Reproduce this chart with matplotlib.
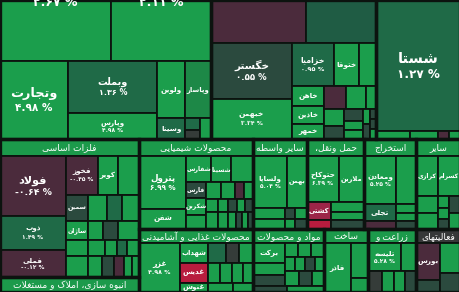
import matplotlib
matplotlib.use("Agg")
import matplotlib.pyplot as plt
from matplotlib.patches import Rectangle

# ---------------- data: tree of tiles (name, size, change-class, change %) ----------------
def L(name, v, c, pct=None):
    return {'t': 'leaf', 'name': name, 'v': v, 'c': c, 'pct': pct, 'hdr': False}

def Hd(name, v, c='hdr'):
    return {'t': 'leaf', 'name': name, 'v': v, 'c': c, 'pct': None, 'hdr': True}

def H(*ch, sector=False):
    return {'t': 'h', 'ch': ch, 'sector': sector}

def V(*ch, sector=False):
    return {'t': 'v', 'ch': ch, 'sector': sector}

banks = V(
    H(L(None, 6771, 'g', '۲.۶۷ %'), L(None, 6100, 'g', '۲.۱۱ %')),
    H(L('وتجارت', 5343, 'g', '۴.۹۸ %'),
      V(L('وبملت', 4628, 'dg', '۱.۳۶ %'), L('وپارس', 2314, 'g', '۴.۹۸ %')),
      V(L('ولوین', 1568, 'g'), L('وسینا', 578, 'dg')),
      V(L('وپاسار', 1482, 'mg'),
        H(V(L('', 180, 'dg'), L('', 135, 'gy')), L('', 231, 'g')))),
    sector=True)

auto = V(
    H(L('', 4085, 'm'), L('', 3010, 'dg2')),
    H(V(L('خگستر', 4536, 'dk', '۰.۵۵ %'), L('خبهمن', 3240, 'g', '۳.۳۴ %')),
      V(H(L('خزامیا', 1806, 'dg', '۰.۹۵ %'), L('ختوقا', 1075, 'g'), L('', 731, 'g')),
        H(V(L('خاهن', 640, 'g'), L('خاذین', 576, 'g'), L('خمهر', 480, 'g')),
          V(H(L('', 506, 'm'), L('', 460, 'g'), L('', 230, 'g')),
            H(V(L('', 340, 'g'), L('', 260, 'dk')),
              V(L('', 228, 'dk'), L('', 171, 'g'), L('', 171, 'g')),
              V(L('', 105, 'g'), L('', 105, 'dk')),
              V(L('', 60, 'dk'), L('', 60, 'dk'), L('', 60, 'g'))))))),
    sector=True)

shasta = V(L('شستا', 11004, 'dg', '۱.۲۷ %'),
           H(L('', 272, 'g'), L('', 224, 'g'), L('', 88, 'm'), L('', 88, 'g')),
           sector=True)

felezat = V(
    Hd('فلزات اساسی', 2363),
    H(V(L('فولاد', 3960, 'm', '-۰.۶۴ %'), L('ذوب', 2244, 'dg', '۱.۴۹ %'),
        L('فملی', 1782, 'm', '-۰.۱۲ %')),
      V(H(L('فخوز', 1229, 'm', '-۰.۴۵ %'), L('کویر', 800, 'g'), L('', 819, 'g')),
        V(H(L('سمین', 572, 'dk'), L('', 494, 'g'), L('', 390, 'dg'), L('', 442, 'g')),
          H(L('ساژان', 418, 'g'), L('', 285, 'g'), L('', 285, 'dk'), L('', 399, 'g')),
          H(L('', 352, 'g'), L('', 272, 'g'), L('', 192, 'g'), L('', 160, 'dg'), L('', 192, 'g')),
          H(L('', 462, 'g'), L('', 294, 'g'), L('', 252, 'dk'), L('', 210, 'm'),
            L('', 168, 'g'), L('', 147, 'g'))))),
    sector=True)

anbooh = V(Hd('انبوه سازی، املاک و مستغلات', 2085), sector=True)

shimi = V(
    Hd('محصولات شیمیایی', 1938),
    H(V(L('پترول', 2491, 'g', '۶.۹۹ %'), L('شفن', 940, 'g')),
      V(H(L('شفارس', 650, 'g'), L('شسینا', 520, 'g'), L('', 572, 'g')),
        H(V(L('فارس', 320, 'dk'), L('شکربن', 340, 'g'), L('', 280, 'g')),
          V(H(L('', 255, 'g'), L('', 238, 'g'), L('', 153, 'm'), L('', 153, 'g')),
            H(L('', 156, 'g'), L('', 130, 'g'), L('', 117, 'dk'), L('', 104, 'g'), L('', 104, 'dk')),
            H(L('', 204, 'g'), L('', 170, 'g'), L('', 136, 'g'), L('', 102, 'dk'),
              L('', 102, 'g'), L('', 85, 'dk')))))),
    sector=True)

vaseteh = V(
    Hd('سایر واسطه', 918),
    V(H(L('ولساپا', 1768, 'g', '۵.۰۴ %'), L('بهمن', 1040, 'g')),
      H(V(L('', 352, 'g'), L('', 320, 'g')), V(L('', 110, 'dk'), L('', 100, 'g')),
        V(L('', 132, 'g'), L('', 120, 'dk')))),
    sector=True)

haml = V(
    Hd('حمل ونقل،', 969),
    V(H(L('حتوکاح', 1472, 'g', '۶.۳۹ %'), L('ملارین', 1150, 'g')),
      H(V(L('کشتی', 432, 'pk'), L('', 216, 'r')),
        V(L('', 330, 'g'), L('', 264, 'g'), L('', 297, 'dk')))),
    sector=True)

estekhraj = V(
    Hd('استخراج', 884),
    V(H(L('ومعادن', 1536, 'g', '۵.۲۵ %'), L('', 960, 'g')),
      H(V(L('تجلی', 544, 'dg'), L('', 256, 'm')),
        V(L('', 180, 'g'), L('', 160, 'g'), L('', 160, 'dk')))),
    sector=True)

sayer = V(
    Hd('سایر', 748),
    V(H(L('کرازی', 880, 'g'), L('کسرام', 880, 'g')),
      H(V(L('', 374, 'g'), L('', 352, 'g')),
        V(L('', 132, 'g'), L('', 121, 'g'), L('', 110, 'dk')),
        V(L('', 187, 'dk'), L('', 176, 'g')))),
    sector=True)

ghaza = V(
    Hd('محصولات غذایی و آشامیدنی', 1596),
    H(L('غزر', 2009, 'g', '۴.۹۸ %'),
      V(H(L('شهداب', 560, 'g'), L('', 360, 'dg'), L('', 260, 'gy'), L('', 280, 'g')),
        H(L('غدیس', 560, 'r'), L('', 240, 'g'), L('', 240, 'g'), L('', 220, 'g'), L('', 200, 'g')),
        H(L('غنوش', 252, 'g'), L('', 225, 'g'), L('', 180, 'g')))),
    sector=True)

mavad = V(
    Hd('مواد و محصولات', 994),
    H(V(L('برکت', 640, 'g'), L('', 384, 'g'), L('', 352, 'dk')),
      V(H(L('', 182, 'g'), L('', 182, 'g'), L('', 182, 'g')),
        H(L('', 140, 'g'), L('', 140, 'g'), L('', 140, 'dk'), L('', 126, 'g')),
        H(L('', 210, 'g'), L('', 195, 'dk'), L('', 180, 'g')))),
    H(L('', 204, 'dk'), Hd('', 222)),
    sector=True)

sakht = V(
    Hd('ساخت', 616),
    H(L('فاذر', 1323, 'g'), V(L('', 595, 'g'), L('', 238, 'g'))),
    sector=True)

zeraat = V(
    Hd('زراعت و', 672),
    V(H(L('تلیسه', 924, 'g', '۵.۲۸ %'), L('', 420, 'g')),
      H(L('', 294, 'gy'), L('', 252, 'g'), L('', 231, 'g'), L('', 231, 'dk'))),
    sector=True)

faaliat = V(
    Hd('فعالیتهای', 616, 'hdg'),
    H(V(L('بورس', 888, 'm'), L('', 288, 'dk')), V(L('', 600, 'g'), L('', 380, 'dk'))),
    sector=True)

top_band = H(banks, auto, shasta)
bottom_band = H(V(felezat, anbooh),
                V(H(shimi, vaseteh, haml, estekhraj, sayer),
                  H(ghaza, mavad, sakht, zeraat, faaliat)))
root = V(top_band, bottom_band)

# ---------------- style ----------------
COLORS = {
    'g': '#1b9e4c', 'mg': '#1d8847', 'dg': '#1f6a47', 'dg2': '#1f5c44',
    'dk': '#2b4a3e', 'm': '#4b2b3c', 'r': '#b81c3e', 'pk': '#9c2548',
    'gy': '#353c39', 'hdr': '#1c9a4b', 'hdg': '#363838',
}
BORDER = '#0c130f'
W, Hgt = 460, 292

# ---------------- Persian shaping ----------------
FORMS = {
    'ا': ('\uFE8D', '\uFE8E', None, None), 'آ': ('\uFE81', '\uFE82', None, None),
    'ب': ('\uFE8F', '\uFE90', '\uFE91', '\uFE92'), 'پ': ('\uFB56', '\uFB57', '\uFB58', '\uFB59'),
    'ت': ('\uFE95', '\uFE96', '\uFE97', '\uFE98'), 'ث': ('\uFE99', '\uFE9A', '\uFE9B', '\uFE9C'),
    'ج': ('\uFE9D', '\uFE9E', '\uFE9F', '\uFEA0'), 'چ': ('\uFB7A', '\uFB7B', '\uFB7C', '\uFB7D'),
    'ح': ('\uFEA1', '\uFEA2', '\uFEA3', '\uFEA4'), 'خ': ('\uFEA5', '\uFEA6', '\uFEA7', '\uFEA8'),
    'د': ('\uFEA9', '\uFEAA', None, None), 'ذ': ('\uFEAB', '\uFEAC', None, None),
    'ر': ('\uFEAD', '\uFEAE', None, None), 'ز': ('\uFEAF', '\uFEB0', None, None),
    'ژ': ('\uFB8A', '\uFB8B', None, None),
    'س': ('\uFEB1', '\uFEB2', '\uFEB3', '\uFEB4'), 'ش': ('\uFEB5', '\uFEB6', '\uFEB7', '\uFEB8'),
    'ص': ('\uFEB9', '\uFEBA', '\uFEBB', '\uFEBC'), 'ض': ('\uFEBD', '\uFEBE', '\uFEBF', '\uFEC0'),
    'ط': ('\uFEC1', '\uFEC2', '\uFEC3', '\uFEC4'), 'ظ': ('\uFEC5', '\uFEC6', '\uFEC7', '\uFEC8'),
    'ع': ('\uFEC9', '\uFECA', '\uFECB', '\uFECC'), 'غ': ('\uFECD', '\uFECE', '\uFECF', '\uFED0'),
    'ف': ('\uFED1', '\uFED2', '\uFED3', '\uFED4'), 'ق': ('\uFED5', '\uFED6', '\uFED7', '\uFED8'),
    'ک': ('\uFB8E', '\uFB8F', '\uFB90', '\uFB91'), 'گ': ('\uFB92', '\uFB93', '\uFB94', '\uFB95'),
    'ل': ('\uFEDD', '\uFEDE', '\uFEDF', '\uFEE0'), 'م': ('\uFEE1', '\uFEE2', '\uFEE3', '\uFEE4'),
    'ن': ('\uFEE5', '\uFEE6', '\uFEE7', '\uFEE8'), 'ه': ('\uFEE9', '\uFEEA', '\uFEEB', '\uFEEC'),
    'و': ('\uFEED', '\uFEEE', None, None), 'ی': ('\uFBFC', '\uFBFD', '\uFBFE', '\uFBFF'),
    'ئ': ('\uFE89', '\uFE8A', '\uFE8B', '\uFE8C'),
}

def dual(c):
    return c in FORMS and FORMS[c][2] is not None

def shape(s):
    out = []
    i, n = 0, len(s)
    while i < n:
        c = s[i]
        prev = s[i - 1] if i > 0 else None
        nxt = s[i + 1] if i + 1 < n else None
        if c not in FORMS:
            out.append(c); i += 1; continue
        if c == 'ل' and nxt in ('ا', 'آ'):
            lig = ('\uFEFB', '\uFEFC') if nxt == 'ا' else ('\uFEF5', '\uFEF6')
            out.append(lig[1] if dual(prev) else lig[0]); i += 2; continue
        cp = dual(prev)
        cn = dual(c) and nxt in FORMS
        iso, fin, ini, med = FORMS[c]
        out.append(med if (cp and cn) else fin if cp else ini if cn else iso)
        i += 1
    return ''.join(reversed(out))

# ---------------- layout ----------------
def weight(nd):
    return nd['v'] if nd['t'] == 'leaf' else sum(weight(c) for c in nd['ch'])

leaves, sectors = [], []

def layout(nd, x0, y0, x1, y1):
    if nd['t'] == 'leaf':
        leaves.append((nd, x0, y0, x1, y1)); return
    if nd.get('sector'):
        sectors.append((x0, y0, x1, y1))
    tot = weight(nd)
    pos = x0 if nd['t'] == 'h' else y0
    for c in nd['ch']:
        f = weight(c) / tot
        if nd['t'] == 'h':
            w = (x1 - x0) * f
            layout(c, pos, y0, pos + w, y1); pos += w
        else:
            h = (y1 - y0) * f
            layout(c, x0, pos, x1, pos + h); pos += h

layout(root, 0, 0, W, Hgt)

# ---------------- draw ----------------
fig = plt.figure(figsize=(W / 100, Hgt / 100), dpi=100)
fig.patch.set_facecolor(BORDER)
ax = fig.add_axes([0, 0, 1, 1])
ax.set_xlim(0, W); ax.set_ylim(Hgt, 0); ax.axis('off')
renderer = fig.canvas.get_renderer()

FONT = ['DejaVu Sans']

def fit(t, maxw):
    bb = t.get_window_extent(renderer=renderer)
    if bb.width > maxw:
        t.set_fontsize(max(4.4, t.get_fontsize() * maxw / bb.width))

for nd, x0, y0, x1, y1 in leaves:
    w, h = x1 - x0, y1 - y0
    ax.add_patch(Rectangle((x0, y0), w, h, facecolor=COLORS[nd['c']],
                           edgecolor=BORDER, linewidth=1.3))
    cx, cy = (x0 + x1) / 2, (y0 + y1) / 2
    if nd['hdr']:
        if nd['name']:
            t = ax.text(cx, cy + 0.5, shape(nd['name']), color='white', fontsize=6.6,
                        ha='center', va='center', family=FONT, clip_on=True)
            fit(t, w - 4)
        continue
    name, pct = nd['name'], nd['pct']
    if name is None:
        ax.text(cx, y0 + 9, pct, color='white', fontsize=9, fontweight='bold',
                ha='center', va='bottom', family=FONT, clip_on=True)
        continue
    if not name:
        continue
    fs = max(5.2, min(10.5, min(w, h) * 0.135))
    if pct:
        line = fs * 100 / 72
        t = ax.text(cx, cy - 0.5 * line, shape(name), color='white', fontsize=fs,
                    fontweight='bold', ha='center', va='center', family=FONT)
        fit(t, w - 4)
        t2 = ax.text(cx, cy + 0.6 * line, pct, color='white', fontsize=fs * 0.82,
                     fontweight='bold', ha='center', va='center', family=FONT)
        fit(t2, w - 4)
    else:
        t = ax.text(cx, cy, shape(name), color='white', fontsize=fs, fontweight='bold',
                    ha='center', va='center', family=FONT, clip_on=True)
        fit(t, w - 3)

for x0, y0, x1, y1 in sectors:
    ax.add_patch(Rectangle((x0, y0), x1 - x0, y1 - y0, fill=False,
                           edgecolor=BORDER, linewidth=2.4))

fig.savefig('out.png', dpi=100, facecolor=BORDER)
